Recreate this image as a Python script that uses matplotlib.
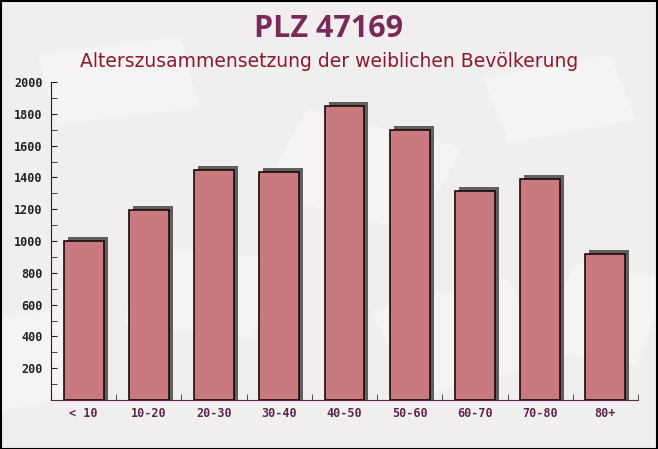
import matplotlib
matplotlib.use("Agg")
import matplotlib.pyplot as plt
import matplotlib.transforms as mtransforms
from matplotlib.patches import Rectangle
import numpy as np

categories = ["< 10", "10-20", "20-30", "30-40", "40-50", "50-60", "60-70", "70-80", "80+"]
values = [997, 1194, 1449, 1434, 1849, 1697, 1313, 1389, 916]
y_ticks = [200, 400, 600, 800, 1000, 1200, 1400, 1600, 1800, 2000]
title = "PLZ 47169"
subtitle = "Alterszusammensetzung der weiblichen Bevölkerung"

fig = plt.figure(figsize=(6.58, 4.49), dpi=100)
fig.patch.set_facecolor("#f1eef0")

# faint decorative envelopes in the background
bg = fig.add_axes([0, 0, 1, 1], zorder=-10)
bg.set_xlim(0, 1); bg.set_ylim(0, 1); bg.axis("off")
for (cx, cy, w, h, ang) in [(0.18, 0.82, 0.22, 0.16, 10), (0.55, 0.62, 0.25, 0.2, -20),
                             (0.85, 0.78, 0.2, 0.15, 15), (0.3, 0.35, 0.2, 0.18, -8),
                             (0.7, 0.25, 0.22, 0.2, 20), (0.05, 0.2, 0.15, 0.2, 12),
                             (0.92, 0.3, 0.15, 0.2, -15)]:
    r = Rectangle((cx - w / 2, cy - h / 2), w, h, angle=ang, rotation_point="center",
                  facecolor="white", alpha=0.3, edgecolor="none")
    bg.add_patch(r)
bg.add_patch(Rectangle((0.001, 0.001), 0.998, 0.997, fill=False, edgecolor="black", lw=1.5))

ax = fig.add_axes([51 / 658, 49 / 449, 587 / 658, 318 / 449])
ax.patch.set_alpha(0)
x = np.arange(len(categories))
bw = 0.61

shadow1 = mtransforms.ScaledTranslation(4 / 100, 4 / 100, fig.dpi_scale_trans)
shadow2 = mtransforms.ScaledTranslation(4 / 100, 0, fig.dpi_scale_trans)
for tr in (shadow1, shadow2):
    ax.bar(x, values, width=bw, color="#606060", edgecolor="none",
           transform=ax.transData + tr, zorder=2)
ax.bar(x, values, width=bw, color="#c97a7e", edgecolor="#1a0a0a", linewidth=1.2, zorder=3)

ax.set_xlim(-0.5, len(categories) - 0.5)
ax.set_ylim(0, 2000)
ax.set_yticks(y_ticks)
ax.set_yticks(np.arange(100, 2000, 200), minor=True)
ax.set_xticks(x)
ax.set_xticklabels(categories)
ax.set_xticks(np.arange(0.5, len(categories) - 0.4, 1), minor=True)
ax.tick_params(axis="x", which="major", length=0, pad=5, labelcolor="#5a2a4a")
ax.tick_params(axis="x", which="minor", direction="in", length=4, color="#333333")
ax.tick_params(axis="y", which="both", direction="in", length=4, color="#222222",
               labelcolor="#222222", pad=6)
for lab in ax.get_xticklabels() + ax.get_yticklabels():
    lab.set_fontfamily("DejaVu Sans Mono")
    lab.set_fontweight("bold")
    lab.set_fontsize(8.5)
for s in ("top", "right"):
    ax.spines[s].set_visible(False)
ax.spines["left"].set_color("#222222")
ax.spines["bottom"].set_color("#5a2a4a")

fig.text(0.5, 0.935, title, ha="center", va="center", fontsize=22, fontweight="bold",
         color="#7a2a5a", family="Open Sans")
fig.text(0.5, 0.862, subtitle, ha="center", va="center", fontsize=13.5,
         color="#8b1a2a", family="DejaVu Sans")

fig.savefig("out.png", dpi=100, facecolor=fig.get_facecolor())
